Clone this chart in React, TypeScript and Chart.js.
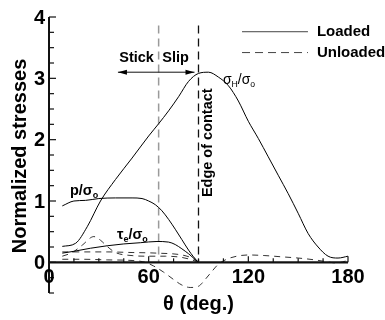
import { useEffect, useRef } from 'react';
import { Chart, registerables } from 'chart.js';

Chart.register(...registerables);

// ---- data ----
const xTickLabels = [0, 60, 120, 180];
const yTickLabels = [0, 1, 2, 3, 4];

// Loaded (solid)
const thetaSigmaH = [8, 16, 23, 31, 40, 50, 60, 66, 72, 78, 84, 90, 96, 102, 108, 114, 120, 126, 132, 138, 144, 150, 156, 162, 168, 174, 180];
const sigmaH = [0.26, 0.31, 0.58, 1.0, 1.35, 1.7, 2.06, 2.26, 2.47, 2.7, 2.95, 3.08, 3.1, 3.02, 2.88, 2.63, 2.3, 2.02, 1.72, 1.42, 1.12, 0.8, 0.47, 0.25, 0.1, 0.07, 0.1];

const thetaP = [8, 15, 22, 30, 40, 50, 56, 60, 64, 68, 72, 76, 80, 84, 87, 90];
const pNorm = [0.92, 1.0, 1.01, 1.04, 1.05, 1.05, 1.04, 1.0, 0.94, 0.84, 0.7, 0.54, 0.37, 0.2, 0.09, 0];

const thetaTau = [8, 15, 25, 35, 45, 55, 65, 72, 76, 80, 84, 87, 90];
const tauE = [0.15, 0.18, 0.23, 0.27, 0.3, 0.32, 0.34, 0.33, 0.29, 0.22, 0.14, 0.07, 0];

// Unloaded (dashed)
const thetaTauU = [8, 14, 20, 27, 31, 35, 40, 50, 60, 70, 80, 86, 90];
const tauEU = [0.1, 0.16, 0.28, 0.42, 0.36, 0.26, 0.16, 0.11, 0.1, 0.1, 0.08, 0.04, 0];

const thetaPU = [8, 20, 35, 50, 65, 80, 86, 90];
const pNormU = [0.17, 0.17, 0.17, 0.16, 0.15, 0.12, 0.07, 0];

const thetaSigmaHU = [8, 20, 35, 50, 58, 63, 69, 75, 80, 85, 90, 94, 98, 102, 107, 113, 120, 130, 140, 150, 160, 167, 173, 180];
const sigmaHU = [0.05, 0.05, 0.04, 0.03, 0.0, -0.06, -0.16, -0.28, -0.37, -0.41, -0.39, -0.28, -0.15, -0.03, 0.05, 0.1, 0.12, 0.11, 0.09, 0.07, 0.04, 0.01, -0.01, 0.03];

const stickSlipBoundary = 66;
const edgeOfContact = 90;

const FONT = '"Liberation Sans", Arial, Helvetica, sans-serif';

type Part = { t: string; sub?: boolean };

function drawParts(ctx: CanvasRenderingContext2D, x: number, y: number, parts: Part[], size: number, weight: string) {
  let cx = x;
  ctx.textAlign = 'left';
  ctx.textBaseline = 'middle';
  for (const p of parts) {
    const s = p.sub ? size * 0.62 : size;
    ctx.font = `${weight} ${s}px ${FONT}`;
    ctx.fillText(p.t, cx, p.sub ? y + size * 0.3 : y);
    cx += ctx.measureText(p.t).width;
  }
}

const axesPlugin = {
  id: 'customAxes',
  beforeDatasetsDraw(chart: any) {
    const { ctx } = chart;
    const xs = chart.scales.x;
    const ys = chart.scales.y;
    ctx.save();
    ctx.setLineDash([8, 5]);
    // stick/slip boundary (gray)
    ctx.strokeStyle = '#9a9a9a';
    ctx.lineWidth = 1.5;
    ctx.beginPath();
    ctx.moveTo(xs.getPixelForValue(stickSlipBoundary), ys.getPixelForValue(3.86));
    ctx.lineTo(xs.getPixelForValue(stickSlipBoundary), ys.getPixelForValue(0));
    ctx.stroke();
    // edge of contact (black)
    ctx.strokeStyle = '#111';
    ctx.lineWidth = 1.3;
    ctx.beginPath();
    ctx.moveTo(xs.getPixelForValue(edgeOfContact), ys.getPixelForValue(3.86));
    ctx.lineTo(xs.getPixelForValue(edgeOfContact), ys.getPixelForValue(0));
    ctx.stroke();
    ctx.restore();
  },
  afterDatasetsDraw(chart: any) {
    const { ctx, chartArea } = chart;
    const xs = chart.scales.x;
    const ys = chart.scales.y;
    const X = (v: number) => xs.getPixelForValue(v);
    const Y = (v: number) => ys.getPixelForValue(v);
    ctx.save();
    ctx.setLineDash([]);
    ctx.fillStyle = '#000';
    ctx.strokeStyle = '#111';

    // y axis line
    ctx.lineWidth = 2;
    ctx.beginPath();
    ctx.moveTo(X(0), Y(4));
    ctx.lineTo(X(0), Y(-0.5));
    ctx.stroke();
    // x axis line at y=0
    ctx.lineWidth = 2.2;
    ctx.beginPath();
    ctx.moveTo(X(0), Y(0));
    ctx.lineTo(X(180), Y(0));
    ctx.stroke();

    // y ticks (inward)
    ctx.lineWidth = 1.2;
    for (let v = -0.5; v <= 4.001; v += 0.25) {
      const major = Math.abs(v - Math.round(v)) < 1e-6;
      const len = major ? 7 : 5;
      ctx.beginPath();
      ctx.moveTo(X(0), Y(v));
      ctx.lineTo(X(0) + len, Y(v));
      ctx.stroke();
    }
    // x ticks (upward)
    for (let v = 15; v <= 180; v += 15) {
      const major = v % 60 === 0;
      const len = major ? 6 : 4;
      ctx.beginPath();
      ctx.moveTo(X(v), Y(0));
      ctx.lineTo(X(v), Y(0) - len);
      ctx.stroke();
    }

    // tick labels
    ctx.font = `bold 20px ${FONT}`;
    ctx.textAlign = 'right';
    ctx.textBaseline = 'middle';
    for (const v of yTickLabels) {
      ctx.fillText(String(v), X(0) - 4, Y(v) + 1);
    }
    ctx.textAlign = 'center';
    for (const v of xTickLabels) {
      ctx.fillText(String(v), X(v), Y(0) + 15);
    }

    // axis titles
    ctx.font = `bold 20px ${FONT}`;
    ctx.textAlign = 'center';
    ctx.textBaseline = 'middle';
    ctx.fillText('θ (deg.)', (chartArea.left + chartArea.right) / 2, chartArea.bottom + 11);
    ctx.save();
    ctx.translate(20, 156);
    ctx.rotate(-Math.PI / 2);
    ctx.fillText('Normalized stresses', 0, 0);
    ctx.restore();

    // Stick / Slip
    ctx.font = `bold 14.5px ${FONT}`;
    ctx.fillText('Stick', X(52.7), Y(3.33));
    ctx.fillText('Slip', X(76.2), Y(3.33));

    // double arrow
    const ay = Y(3.1);
    const ax1 = X(41.5);
    const ax2 = X(87.6);
    ctx.lineWidth = 1;
    ctx.beginPath();
    ctx.moveTo(ax1, ay);
    ctx.lineTo(ax2, ay);
    ctx.stroke();
    ctx.beginPath();
    ctx.moveTo(ax1, ay);
    ctx.lineTo(ax1 + 9, ay - 2.5);
    ctx.lineTo(ax1 + 9, ay + 2.5);
    ctx.closePath();
    ctx.fill();
    ctx.beginPath();
    ctx.moveTo(ax2, ay);
    ctx.lineTo(ax2 - 9, ay - 2.5);
    ctx.lineTo(ax2 - 9, ay + 2.5);
    ctx.closePath();
    ctx.fill();

    // Edge of contact
    ctx.save();
    ctx.translate(X(95.7), Y(1.95));
    ctx.rotate(-Math.PI / 2);
    ctx.font = `bold 14.5px ${FONT}`;
    ctx.textAlign = 'center';
    ctx.textBaseline = 'middle';
    ctx.fillText('Edge of contact', 0, 0);
    ctx.restore();

    // curve labels
    drawParts(ctx, X(104.7), Y(2.97), [{ t: 'σ' }, { t: 'H', sub: true }, { t: '/σ' }, { t: 'o', sub: true }], 14, 'normal');
    drawParts(ctx, X(12.6), Y(1.16), [{ t: 'p/σ' }, { t: 'o', sub: true }], 14.5, 'bold');
    drawParts(ctx, X(40.9), Y(0.44), [{ t: 'τ' }, { t: 'e', sub: true }, { t: '/σ' }, { t: 'o', sub: true }], 14.5, 'bold');

    // legend
    ctx.strokeStyle = '#444';
    ctx.lineWidth = 1;
    ctx.beginPath();
    ctx.moveTo(X(116.2), Y(3.76));
    ctx.lineTo(X(155.9), Y(3.76));
    ctx.stroke();
    ctx.setLineDash([8, 5]);
    ctx.beginPath();
    ctx.moveTo(X(116.2), Y(3.42));
    ctx.lineTo(X(155.9), Y(3.42));
    ctx.stroke();
    ctx.setLineDash([]);
    ctx.font = `bold 15px ${FONT}`;
    ctx.textAlign = 'left';
    ctx.textBaseline = 'middle';
    ctx.fillText('Loaded', X(161.3), Y(3.76));
    ctx.fillText('Unloaded', X(161.3), Y(3.42));

    ctx.restore();
  },
};

const pts = (xs: number[], ys: number[]) => xs.map((x, i) => ({ x, y: ys[i] }));

export default function App() {
  const ref = useRef<HTMLCanvasElement>(null);
  useEffect(() => {
    if (!ref.current) return;
    const solid = { borderColor: '#000', borderWidth: 1, pointRadius: 0, cubicInterpolationMode: 'monotone' as const, fill: false };
    const dashed = { borderColor: '#333', borderWidth: 1, borderDash: [6, 5], pointRadius: 0, cubicInterpolationMode: 'monotone' as const, fill: false };
    const chart = new Chart(ref.current, {
      type: 'line',
      data: {
        datasets: [
          { label: 'σH/σo loaded', data: pts(thetaSigmaH, sigmaH), ...solid },
          { label: 'p/σo loaded', data: pts(thetaP, pNorm), ...solid },
          { label: 'τe/σo loaded', data: pts(thetaTau, tauE), ...solid },
          { label: 'τe/σo unloaded', data: pts(thetaTauU, tauEU), ...dashed },
          { label: 'p/σo unloaded', data: pts(thetaPU, pNormU), ...dashed },
          { label: 'σH/σo unloaded', data: pts(thetaSigmaHU, sigmaHU), ...dashed },
        ],
      },
      options: {
        animation: false,
        responsive: false,
        maintainAspectRatio: false,
        layout: { padding: { left: 49, right: 37, top: 17, bottom: 27 } },
        scales: {
          x: { type: 'linear', min: 0, max: 180, display: false },
          y: { type: 'linear', min: -0.5, max: 4, display: false },
        },
        plugins: { legend: { display: false }, tooltip: { enabled: false } },
        elements: { point: { radius: 0 } },
      },
      plugins: [axesPlugin],
    });
    return () => chart.destroy();
  }, []);
  return (
    <div style={{ position: 'absolute', left: 0, top: 0, width: 385, height: 320, background: '#fff' }}>
      <canvas ref={ref} width={385} height={320} style={{ width: 385, height: 320, display: 'block' }} />
    </div>
  );
}
